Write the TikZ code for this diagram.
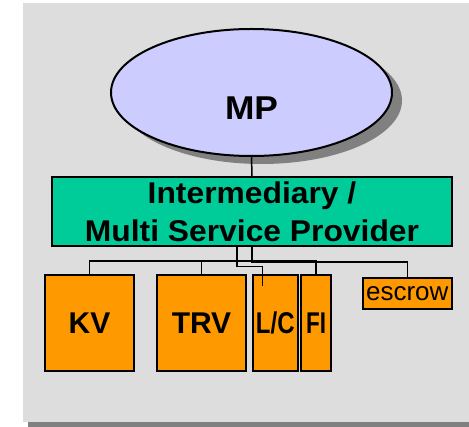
\documentclass[tikz,border=0pt]{standalone}
\usepackage{fontspec}
\setmainfont{Liberation Sans}
\usepackage{tikz}
\usetikzlibrary{shapes.geometric,shadows}
\definecolor{bggray}{HTML}{DDDDDD}
\definecolor{shadegray}{HTML}{808080}
\definecolor{mpblue}{HTML}{CCCCFF}
\definecolor{ispgreen}{HTML}{00CC99}
\definecolor{svcorange}{HTML}{FF9900}
\newcommand{\squeeze}[2]{\scalebox{#1}[1]{#2}}

\tikzset{
  svc/.style={draw, line width=2pt, fill=svcorange, inner sep=0pt,
    minimum height=96pt, font=\fontsize{30}{36}\selectfont\bfseries},
  link/.style={line width=1.5pt}
}

\begin{document}
\begin{tikzpicture}[x=1pt,y=-1pt]
\useasboundingbox (0,0) rectangle (469,427);

\fill[bggray] (23,3) rectangle (469,422);
\fill[shadegray] (28,422) rectangle (469,427);

\node[ellipse, draw, line width=2pt, fill=mpblue, minimum width=281pt, minimum height=127pt,
  drop shadow={shadow xshift=10pt, shadow yshift=-8pt, fill=shadegray, opacity=1}] (mp) at (251.5,92.5) {};
\node[font=\fontsize{33}{36}\selectfont\bfseries, inner sep=0pt] (mptext) at ([yshift=-16pt]mp.center) {\squeeze{1.07}{MP}};

\node[draw, line width=2pt, fill=ispgreen, minimum width=400pt, minimum height=69pt, inner sep=0pt,
  align=center, font=\fontsize{30}{38}\selectfont\bfseries] (isp) at (252,211.5)
  {\squeeze{1.06}{Intermediary /}\\\squeeze{1.06}{Multi Service Provider}};

\node[svc, minimum width=89pt] (kv) at (89.5,323) {KV};
\node[svc, minimum width=89pt] (trv) at (201.5,323) {TRV};
\node[svc, minimum width=45pt] (lc) at (275.3,323) {\squeeze{0.8}{L/C}};
\node[svc, minimum width=30pt] (fi) at (316,323) {\squeeze{0.75}{FI}};
\node[draw, line width=2pt, fill=svcorange, inner sep=0pt, minimum width=88.7pt, minimum height=31.6pt,
  font=\fontsize{26}{30}\selectfont] (escrow) at (407.3,293.5) {escrow};

\draw[link] (mp.south) -- (isp.north);
\draw[link] (isp.south) -- ++(0,14) -| (kv.north);
\draw[link] (isp.south) -- ++(0,14) -| (trv.north);
\draw[link] (isp.south) -- ++(0,14) -| (fi.north);
\draw[link] (isp.south) -- ++(0,15) -| (escrow.north);
\draw[link] ([xshift=-15pt]isp.south) -- ++(0,19.5) -| ([xshift=-13pt]lc.north) -- ++(0,12);
\end{tikzpicture}
\end{document}
